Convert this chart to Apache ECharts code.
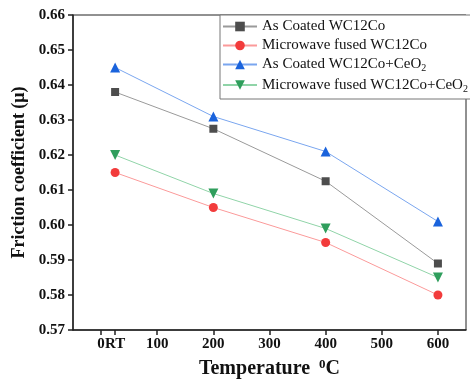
<!DOCTYPE html>
<html>
<head>
<meta charset="utf-8">
<script src="https://cdn.jsdelivr.net/npm/echarts@6/dist/echarts.min.js"></script>
<style>
  html, body { margin: 0; padding: 0; background: #fff; }
  #chart { width: 470px; height: 384px; }
</style>
</head>
<body>
<div id="chart"></div>
<script>
// temperatures in °C; RT plotted at 25
const temperatures = [25, 200, 400, 600];
const asCoated = [0.638, 0.6275, 0.6125, 0.589];
const mwFused = [0.615, 0.605, 0.595, 0.580];
const asCoatedCeO2 = [0.645, 0.631, 0.621, 0.601];
const mwFusedCeO2 = [0.620, 0.609, 0.599, 0.585];
const xTicks = [0, 25, 100, 200, 300, 400, 500, 600];

const serif = "'Liberation Serif', 'DejaVu Serif', serif";

function pairs(values) {
  return temperatures.map((t, i) => [t, values[i]]);
}

function series(name, values, symbol, size, markColor, lineColor) {
  return {
    name: name,
    type: "line",
    data: pairs(values),
    symbol: symbol,
    symbolSize: size,
    itemStyle: { color: markColor },
    lineStyle: { color: lineColor, width: 1 },
    emphasis: { disabled: true },
  };
}

const chart = echarts.init(document.getElementById("chart"));
chart.setOption({
  animation: false,
  grid: {
    left: 73, right: 4, top: 15, bottom: 51,
    show: true, borderColor: "#222", borderWidth: 1,
  },
  legend: {
    orient: "vertical",
    left: 220, top: 15,
    padding: [4, 6, 5, 2],
    itemWidth: 34, itemHeight: 12, itemGap: 4,
    backgroundColor: "#fff",
    borderColor: "#777", borderWidth: 1,
    data: [
      "As Coated WC12Co",
      "Microwave fused WC12Co",
      "As Coated WC12Co+CeO2",
      "Microwave fused WC12Co+CeO2",
    ],
    formatter: (name) => name.replace(/CeO2$/, "CeO{sub|2}"),
    textStyle: {
      fontFamily: serif, fontSize: 15, color: "#111",
      rich: {
        sub: { fontFamily: serif, fontSize: 10, verticalAlign: "bottom", padding: [8, 0, 0, 0] },
      },
    },
  },
  xAxis: {
    type: "value",
    min: -50, max: 650,
    name: "Temperature {sup|0}C",
    nameLocation: "middle",
    nameGap: 28,
    nameTextStyle: {
      fontFamily: serif, fontSize: 20, fontWeight: "bold", color: "#111",
      rich: {
        sup: { fontFamily: serif, fontSize: 13, fontWeight: "bold", verticalAlign: "top", padding: [0, 0, 9, 4] },
      },
    },
    axisLine: { lineStyle: { color: "#222", width: 1.5 } },
    axisTick: { inside: false, length: 5, customValues: xTicks, lineStyle: { color: "#222", width: 1.5 } },
    axisLabel: {
      customValues: xTicks,
      formatter: (v) => (v === 25 ? "RT" : String(v)),
      fontFamily: serif, fontSize: 15, fontWeight: "bold", color: "#111", margin: 7,
    },
    splitLine: { show: false },
  },
  yAxis: {
    type: "value",
    min: 0.57, max: 0.66, interval: 0.01,
    name: "Friction coefficient (μ)",
    nameLocation: "middle",
    nameGap: 42,
    nameTextStyle: { fontFamily: serif, fontSize: 18, fontWeight: "bold", color: "#111" },
    axisLine: { show: true, onZero: false, lineStyle: { color: "#222", width: 1.5 } },
    axisTick: { show: true, length: 5, lineStyle: { color: "#222", width: 1.5 } },
    axisLabel: {
      formatter: (v) => v.toFixed(2),
      fontFamily: serif, fontSize: 15, fontWeight: "bold", color: "#111", margin: 8,
    },
    splitLine: { show: false },
  },
  series: [
    series("As Coated WC12Co", asCoated, "rect", 8, "#4d4d4d", "#9a9a9a"),
    series("Microwave fused WC12Co", mwFused, "circle", 9, "#f23b3b", "#fb9a9a"),
    series("As Coated WC12Co+CeO2", asCoatedCeO2, "triangle", 10, "#1a63dc", "#7aa6ef"),
    series("Microwave fused WC12Co+CeO2", mwFusedCeO2, "path://M0,0 L10,0 L5,9 Z", 10, "#2f9e5c", "#90d4a8"),
  ],
});
</script>
</body>
</html>
